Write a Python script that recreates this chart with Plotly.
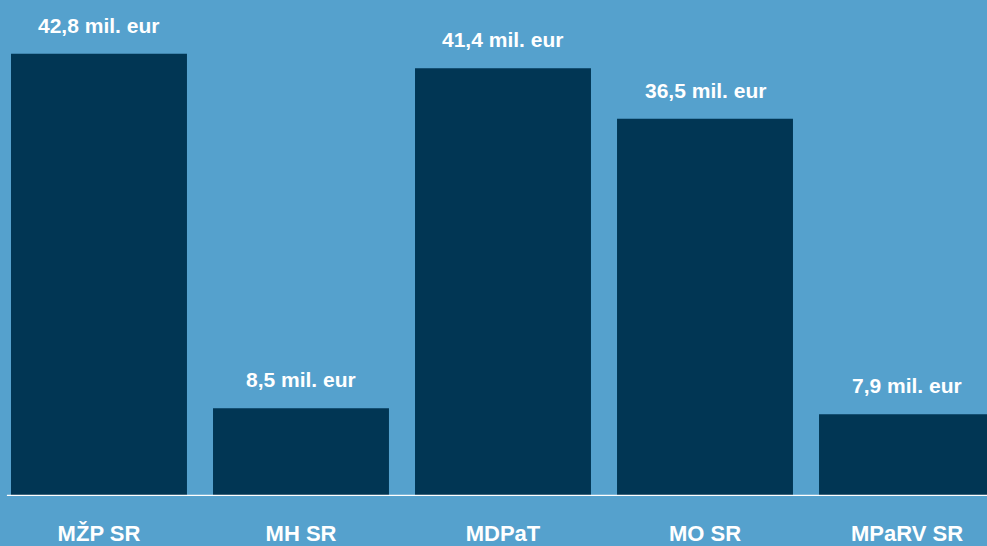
import plotly.graph_objects as go

ministries = ["MŽP SR", "MH SR", "MDPaT", "MO SR", "MPaRV SR"]
amounts = [42.8, 8.5, 41.4, 36.5, 7.9]
amount_labels = ["42,8 mil. eur", "8,5 mil. eur", "41,4 mil. eur", "36,5 mil. eur", "7,9 mil. eur"]

bg = "#55a1cd"
bar_color = "#013654"
font_family = "Liberation Sans, Arial, sans-serif"

fig = go.Figure()
fig.add_trace(go.Bar(
    x=ministries,
    y=amounts,
    marker=dict(color=bar_color, line=dict(width=0)),
    hoverinfo="skip",
))

for name, val, lab in zip(ministries, amounts, amount_labels):
    fig.add_annotation(
        x=name, y=val, text="<b>" + lab + "</b>",
        showarrow=False, yanchor="bottom", yshift=15,
        font=dict(family=font_family, size=21, color="white"),
    )

# white baseline
fig.add_shape(type="line", xref="paper", yref="y", x0=0.007, x1=1, y0=0, y1=0,
              line=dict(color="white", width=2.5))

fig.update_layout(
    width=987, height=546,
    margin=dict(l=0, r=0, t=0, b=50),
    paper_bgcolor=bg, plot_bgcolor=bg,
    bargap=0.129,
    showlegend=False,
    font=dict(family=font_family, color="white"),
)
fig.update_xaxes(
    range=[-0.49, 4.396], automargin=False,
    showgrid=False, zeroline=False, showline=False,
    ticks="", ticklabelstandoff=22,
    tickfont=dict(family=font_family, size=22, color="white", weight="bold"),
)
fig.update_yaxes(range=[0, 48.0], visible=False, showgrid=False, automargin=False)

fig.write_html("out.html", config={"displayModeBar": False},
               post_script="document.body.style.margin='0';document.body.style.overflow='hidden';")
